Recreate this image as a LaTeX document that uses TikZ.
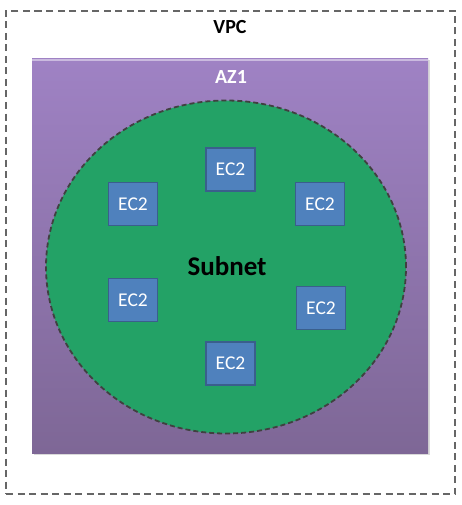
\documentclass[tikz,border=0pt]{standalone}
\usepackage{fontspec}
\setmainfont{Carlito}
\usetikzlibrary{shapes.geometric}

\definecolor{azTop}{HTML}{9F82C4}
\definecolor{azBot}{HTML}{7E6796}
\definecolor{subnetGreen}{HTML}{23A266}
\definecolor{ecFill}{HTML}{4F81BD}
\definecolor{ecLine}{HTML}{3A5F8C}

\begin{document}
\begin{tikzpicture}[x=1pt, y=-1pt,
    vpcbox/.style={draw=black!60, line width=1.6pt, dash pattern=on 7pt off 4.5pt,
        rectangle, minimum width=449pt, minimum height=483pt, inner sep=0pt},
    azbox/.style={rectangle, top color=azTop, bottom color=azBot,
        minimum width=396pt, minimum height=394pt, inner sep=0pt},
    subnet/.style={ellipse, fill=subnetGreen, draw=black!75, line width=1.8pt,
        dash pattern=on 5pt off 3pt, minimum width=360pt, minimum height=333pt, inner sep=0pt},
    ec2/.style={rectangle, fill=ecFill, draw=ecLine, line width=1.5pt,
        minimum width=49pt, minimum height=43pt, inner sep=0pt,
        text=white, font=\fontsize{19.5}{19.5}\selectfont},
    title/.style={font=\bfseries\fontsize{20}{20}\selectfont}]
    \useasboundingbox (0,0) rectangle (461,505);

    % Draw VPC and availability zone
    \node[vpcbox] (vpc) at (230.5,252.5) {};
    \fill[black!15] (33.5,60.5) rectangle (429.5,455);
    \node[azbox] (az) at (230,256) {};
    \fill[azTop!55!white] (az.north west) rectangle ([yshift=-2.5pt]az.north east);
    \node[title] (vpclbl) at (230,27) {VPC};
    \node[title, text=white] (azlbl) at (231,77) {AZ1};

    % Draw subnet
    \node[subnet] (net) at (226,267) {};
    \node[font=\bfseries\fontsize{27}{27}\selectfont] (netlbl) at (227,266) {Subnet};

    % Draw instances
    \node[ec2] (top) at (230.5,169.5) {EC2};
    \node[ec2] (ul) at (133,204) {EC2};
    \node[ec2] (ur) at (320,204) {EC2};
    \node[ec2] (ll) at (133,300) {EC2};
    \node[ec2] (lr) at (321,308) {EC2};
    \node[ec2] (bot) at (230.5,363.5) {EC2};
\end{tikzpicture}
\end{document}
